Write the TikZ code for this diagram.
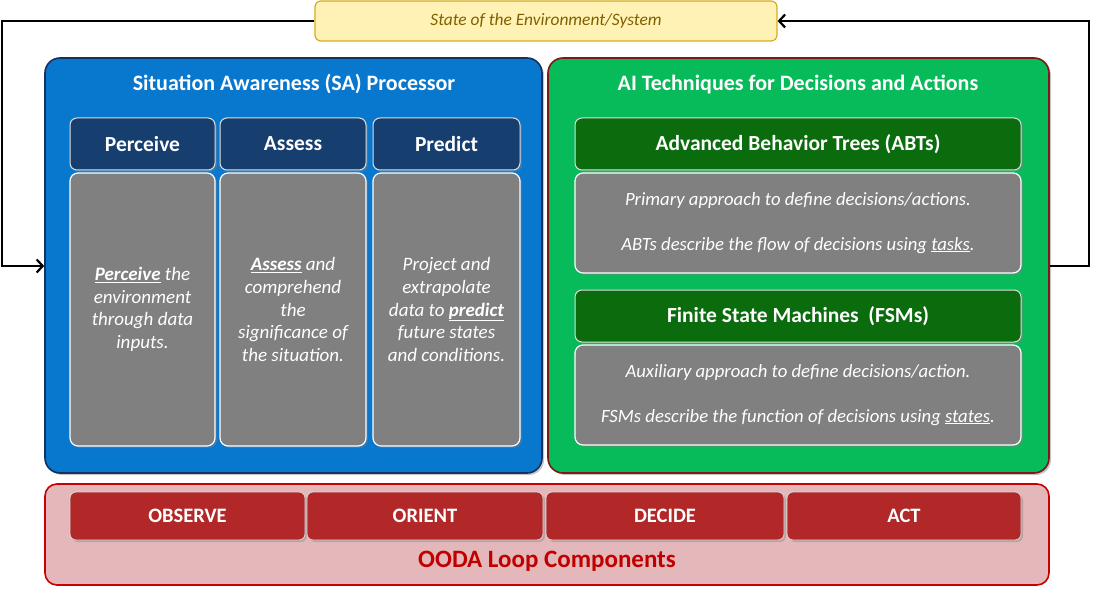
\documentclass[tikz,border=0pt]{standalone}
\usepackage{fontspec}
\setmainfont{Carlito}
\usetikzlibrary{shadows,arrows.meta}
\definecolor{sablue}{RGB}{8,119,206}
\definecolor{saborder}{RGB}{20,50,95}
\definecolor{aigreen}{RGB}{8,187,90}
\definecolor{aiborder}{RGB}{125,25,25}
\definecolor{hdblue}{RGB}{22,62,110}
\definecolor{hdgreen}{RGB}{10,108,12}
\definecolor{bodygray}{RGB}{128,128,128}
\definecolor{oodafill}{RGB}{228,184,186}
\definecolor{oodaborder}{RGB}{200,0,0}
\definecolor{oodaitem}{RGB}{178,40,40}
\definecolor{oodatext}{RGB}{192,0,0}
\definecolor{stfill}{RGB}{255,242,180}
\definecolor{stborder}{RGB}{214,172,30}
\definecolor{sttext}{RGB}{128,96,0}
\tikzset{
  bigpanel/.style={rounded corners=15pt, line width=1.6pt, drop shadow={shadow xshift=2pt,shadow yshift=-2pt,opacity=0.45}},
  hdbox/.style={rounded corners=7pt, draw=white!75!gray, line width=1pt, text=white, font=\bfseries\fontsize{21.5}{24}\selectfont, drop shadow={shadow xshift=2pt,shadow yshift=-2pt,opacity=0.4}},
  graybox/.style={rounded corners=8pt, fill=bodygray, draw=white, line width=1.2pt, text=white, align=center, drop shadow={shadow xshift=2pt,shadow yshift=-2pt,opacity=0.4}},
  colbody/.style={graybox, font=\itshape\fontsize{19}{22.6}\selectfont},
  widebody/.style={graybox, font=\itshape\fontsize{18.7}{22.5}\selectfont},
  titletext/.style={text=white, font=\bfseries\fontsize{22}{24}\selectfont},
  oitem/.style={rounded corners=6pt, fill=oodaitem, draw=white!70!gray, line width=0.8pt, text=white, font=\bfseries\fontsize{20.5}{22}\selectfont, minimum height=48pt, drop shadow={shadow xshift=2pt,shadow yshift=-2pt,opacity=0.4}},
  loopline/.style={line width=2.4pt, black},
  looparrow/.style={loopline, -{Straight Barb[length=6pt,width=13pt,line width=2.2pt]}}
}
\begin{document}
\begin{tikzpicture}[x=1pt,y=-1pt]
\useasboundingbox (0,0) rectangle (1095,596);
% state
\node[rounded corners=6pt, fill=stfill, draw=stborder, line width=1.2pt, minimum width=462pt, minimum height=40pt, text=sttext, font=\itshape\fontsize{17.4}{19}\selectfont] (state) at (546,21) {State of the Environment/System};
% big panels
\node[bigpanel, fill=sablue, draw=saborder, minimum width=497pt, minimum height=415pt] (sa) at (293.5,265.5) {};
\node[bigpanel, fill=aigreen, draw=aiborder, minimum width=501pt, minimum height=415pt] (ai) at (798.5,265.5) {};
\node[titletext] (satitle) at (294,84) {Situation Awareness (SA) Processor};
\node[titletext] (aititle) at (798,84) {AI Techniques for Decisions and Actions};
% SA columns
\node[hdbox, fill=hdblue, minimum width=145pt, minimum height=52pt] (perc) at (142.5,144) {Perceive};
\node[hdbox, fill=hdblue, minimum width=146pt, minimum height=52pt] (asse) at (293,144) {Assess};
\node[hdbox, fill=hdblue, minimum width=147pt, minimum height=52pt] (pred) at (446.5,144) {Predict};
\node[colbody, minimum width=145pt, minimum height=273pt] (percb) at (142.5,309.5) {\textbf{\underline{Perceive}} the\\ environment\\ through data\\ inputs.};
\node[colbody, minimum width=146pt, minimum height=273pt] (asseb) at (293,309.5) {\textbf{\underline{Assess}} and\\ comprehend\\ the\\ significance of\\ the situation.};
\node[colbody, minimum width=147pt, minimum height=273pt] (predb) at (446.5,309.5) {Project and\\ extrapolate\\ data to \textbf{\underline{predict}}\\ future states\\ and conditions.};
% AI techniques
\node[hdbox, fill=hdgreen, minimum width=446pt, minimum height=52pt] (abt) at (798,144) {Advanced Behavior Trees (ABTs)};
\node[widebody, minimum width=446pt, minimum height=100pt] (abtb) at (798,223) {Primary approach to define decisions/actions.\\[22pt] ABTs describe the flow of decisions using \underline{tasks}.};
\node[hdbox, fill=hdgreen, minimum width=446pt, minimum height=52pt] (fsm) at (798,316) {Finite State Machines\ \ (FSMs)};
\node[widebody, minimum width=446pt, minimum height=100pt] (fsmb) at (798,395) {Auxiliary approach to define decisions/action.\\[22pt] FSMs describe the function of decisions using \underline{states}.};
% OODA
\node[rounded corners=12pt, fill=oodafill, draw=oodaborder, line width=1.6pt, minimum width=1004pt, minimum height=101pt] (ooda) at (547,534.5) {};
\node[oitem, minimum width=235pt] (obs) at (187.5,516) {OBSERVE};
\node[oitem, minimum width=236pt] (ori) at (425,516) {ORIENT};
\node[oitem, minimum width=238pt] (dec) at (665,516) {DECIDE};
\node[oitem, minimum width=234pt] (act) at (904,516) {ACT};
\node[text=oodatext, font=\bfseries\fontsize{25}{27}\selectfont] (oodatitle) at (547,561) {OODA Loop Components};
% loop connectors
\coordinate (lt) at (2,21);
\coordinate (lb) at (2,266);
\coordinate (rb) at (1089,266);
\coordinate (rt) at (1089,21);
\draw[looparrow] (state.west) -- (lt) -- (lb) -- (lb -| sa.west);
\draw[looparrow] (rb -| ai.east) -- (rb) -- (rt) -- (state.east);
\end{tikzpicture}
\end{document}
